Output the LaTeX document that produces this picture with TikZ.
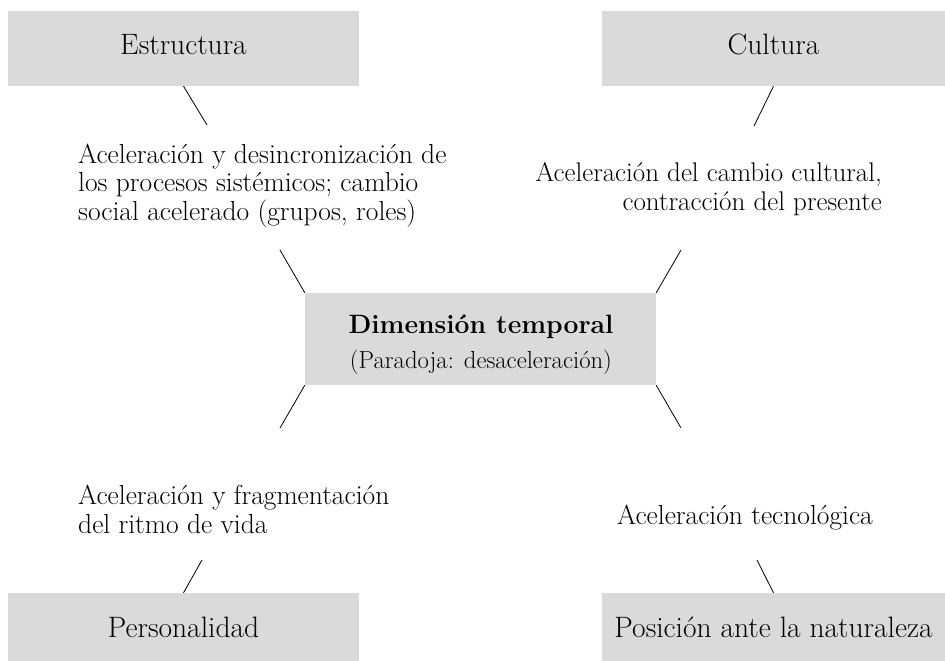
\documentclass[tikz,border=0pt]{standalone}
\definecolor{boxgray}{RGB}{217,218,220}
\begin{document}
\begin{tikzpicture}[x=1pt,y=-1pt,
  box/.style={fill=boxgray, inner sep=0pt, minimum height=75pt, text height=20pt, text depth=7pt, font=\fontsize{29.5}{32}\selectfont},
  lbl/.style={inner sep=0pt, font=\fontsize{27.5}{28.5}\selectfont},
  conn/.style={line width=0.8pt}]
\useasboundingbox (0,0) rectangle (945,661);
% outer boxes
\node[box, minimum width=351pt] (estructura) at (183.5,48.5) {Estructura};
\node[box, minimum width=343pt] (cultura) at (773.5,48.5) {Cultura};
\node[box, minimum width=351pt] (personalidad) at (183.5,630.5) {Personalidad};
\node[box, minimum width=343pt] (posicion) at (773.5,630.5) {Posición ante la naturaleza};
% centre box
\node[fill=boxgray, inner sep=0pt, minimum width=351pt, minimum height=92pt] (centro) at (480.5,339) {};
\node[lbl, anchor=base, font=\fontsize{26.5}{30}\selectfont] (titulo) at (481,333) {\bfseries Dimensión temporal};
\node[lbl, anchor=base, font=\fontsize{24.7}{30}\selectfont] (subtitulo) at (481,368) {(Paradoja: desaceleración)};
% labels (base anchor = last line)
\node[lbl, anchor=base west, align=left] (lestr) at (78,220) {Aceleración y desincronización de\\los procesos sistémicos; cambio\\social acelerado (grupos, roles)};
\node[lbl, anchor=base east, align=right, font=\fontsize{27}{28.5}\selectfont] (lcult) at (882,210) {Aceleración del cambio cultural,\\contracción del presente};
\node[lbl, anchor=base west, align=left] (lpers) at (78,533) {Aceleración y fragmentación\\del ritmo de vida};
\node[lbl, anchor=base] (lpos) at (745,524) {Aceleración tecnológica};
% connector ends
\coordinate (e1) at (207,125);
\coordinate (k1) at (754,126);
\coordinate (e2) at (280,250);
\coordinate (k2) at (681,250);
\coordinate (p2) at (280,428);
\coordinate (n2) at (681,428);
\coordinate (p1) at (202,560);
\coordinate (n1) at (757,560);
% connectors
\draw[conn] (estructura.south) -- (e1);
\draw[conn] (cultura.south) -- (k1);
\draw[conn] (centro.north west) -- (e2);
\draw[conn] (centro.north east) -- (k2);
\draw[conn] (centro.south west) -- (p2);
\draw[conn] (centro.south east) -- (n2);
\draw[conn] (personalidad.north) -- (p1);
\draw[conn] (posicion.north) -- (n1);
\end{tikzpicture}
\end{document}
